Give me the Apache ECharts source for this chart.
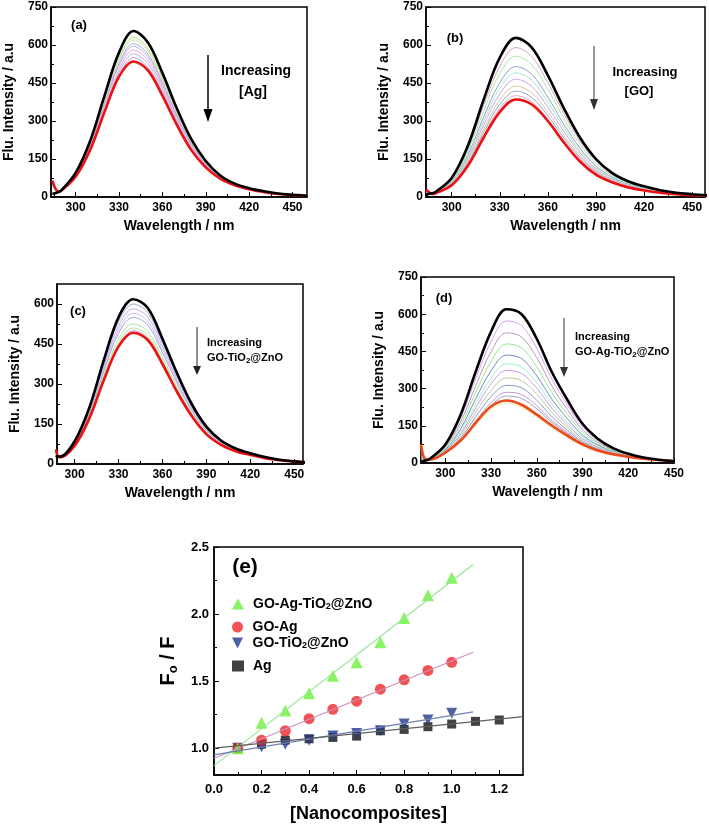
<!DOCTYPE html>
<html><head><meta charset="utf-8">
<script src="https://cdn.jsdelivr.net/npm/echarts@6/dist/echarts.min.js"></script>
<style>html,body{margin:0;padding:0;background:#fff}#c{width:709px;height:829px}</style>
</head><body><div id="c"></div>
<script>
// ---------- DATA ----------
const wlA = [284,288,290,300,310,320,330,340,350,360,370,380,390,400,410,420,430,440,450,460];
const curvesA = [
 [12,20,25,95,220,400,570,655,610,490,350,228,142,85,53,35,23,14,9,5],
 [50,20,24,91,212,385,548,630,587,471,337,219,137,82,52,34,22,14,9,5],
 [45,20,24,90,208,379,540,620,578,464,331,216,134,81,51,34,22,13,8,5],
 [45,20,24,88,203,370,527,605,564,453,323,211,131,79,50,33,22,13,8,5],
 [50,20,23,86,200,363,518,595,554,445,318,207,129,77,49,33,21,13,8,5],
 [50,20,23,84,195,354,504,580,540,434,310,202,126,75,49,33,21,13,8,4],
 [55,20,23,82,190,345,492,565,526,423,302,197,123,74,48,32,21,12,8,4],
 [60,21,24,80,185,336,479,550,512,412,294,192,120,72,47,32,20,12,8,4],
 [65,22,25,80,185,335,475,535,500,400,285,185,117,72,46,31,20,12,8,4]
];
const wlB = [284,288,290,300,310,320,330,340,350,360,370,380,390,400,410,420,430,440,450,460];
const curvesB = [
 [10,15,20,75,200,385,550,628,590,480,350,235,150,95,62,42,27,17,11,6],
 [14,15,19,70,188,362,516,590,554,451,329,221,141,89,58,40,26,16,10,6],
 [16,14,18,66,177,341,487,556,522,425,310,208,133,84,55,38,24,15,10,5],
 [18,14,18,62,164,316,451,515,484,394,287,193,123,78,51,35,23,14,9,5],
 [20,13,17,59,156,300,429,490,460,374,273,183,117,74,48,33,21,14,9,5],
 [22,13,17,56,148,285,407,465,437,355,259,174,111,70,46,31,20,13,8,5],
 [24,13,16,52,139,268,383,438,411,335,244,164,105,66,43,30,19,12,8,4],
 [26,12,16,50,133,256,366,418,393,320,233,157,100,63,41,28,18,12,7,4],
 [28,12,15,48,127,245,350,400,376,306,223,150,96,61,40,27,18,11,7,4],
 [30,12,15,46,122,235,335,385,365,300,215,140,88,58,38,26,17,11,7,4]
];
const wlC = [287,290,300,310,320,330,340,350,360,370,380,390,400,410,420,430,440,450,460];
const curvesC = [
 [30,28,85,210,390,550,618,585,470,340,225,140,88,58,40,26,16,10,5],
 [35,26,83,204,379,534,600,568,456,330,218,136,85,57,39,25,16,10,5],
 [40,26,80,198,367,518,582,551,443,320,212,132,83,55,38,25,15,10,5],
 [42,25,78,192,356,503,565,535,430,311,206,128,80,54,37,24,15,10,5],
 [45,25,76,187,347,490,550,521,418,303,200,125,78,53,37,24,15,9,5],
 [48,25,72,179,332,468,525,497,400,289,191,119,75,51,36,23,14,9,5],
 [50,25,70,173,322,454,510,483,388,281,186,116,73,50,35,23,14,9,5],
 [52,25,69,170,316,445,500,473,380,275,182,113,71,49,34,22,14,9,5],
 [55,25,68,170,315,440,492,465,375,270,180,112,72,48,34,22,14,9,5]
];
const wlD = [284,287,290,300,310,320,330,340,350,360,370,380,390,400,410,420,430,440,450];
const curvesD = [
 [5,10,18,75,195,370,530,620,600,500,365,255,158,98,60,37,22,13,7],
 [8,10,17,69,180,342,490,573,554,462,337,235,146,91,56,35,21,13,7],
 [10,10,16,64,165,313,449,525,508,424,309,216,134,84,53,34,21,13,7],
 [12,10,15,58,151,286,410,480,464,387,283,197,123,78,50,33,20,13,7],
 [15,10,14,53,137,260,372,435,421,351,256,179,112,72,47,32,20,13,8],
 [20,10,14,50,126,239,342,400,387,323,236,164,104,67,45,31,19,12,8],
 [25,10,13,48,117,223,319,373,361,301,220,154,98,63,43,30,19,12,8],
 [30,11,13,46,108,205,293,343,332,277,203,143,91,59,41,29,18,12,8],
 [40,12,13,45,100,187,268,313,303,253,186,132,85,56,39,28,18,12,8],
 [50,12,13,44,92,170,244,285,276,231,171,123,80,53,37,27,18,12,8],
 [60,13,13,44,90,162,232,270,260,218,163,118,78,52,36,26,17,12,8],
 [70,14,12,40,90,155,215,240,225,185,142,103,70,46,32,23,16,11,7],
 [75,15,14,42,90,163,228,252,235,195,150,110,75,50,35,25,17,12,8]
];
// panel (e)
const concX = [0.1,0.2,0.3,0.4,0.5,0.6,0.7,0.8,0.9,1.0];
const concAgX = [0.1,0.2,0.3,0.4,0.5,0.6,0.7,0.8,0.9,1.0,1.1,1.2];
const yGOAgTiZn = [1.00,1.19,1.28,1.41,1.54,1.64,1.79,1.97,2.14,2.27];
const yGOAg = [1.00,1.06,1.13,1.22,1.29,1.35,1.44,1.51,1.58,1.64];
const yGOTiZn = [1.00,1.01,1.03,1.06,1.09,1.11,1.13,1.18,1.21,1.26];
const yAg = [1.00,1.03,1.06,1.07,1.08,1.09,1.13,1.14,1.16,1.18,1.20,1.21];
const fitX = [0, 1.09];
const fitAgX = [0, 1.3];
const fitGOAgTiZn = [0.87, 2.37];
const fitGOAg = [0.925, 1.715];
const fitGOTiZn = [0.95, 1.27];
const fitAg = [1.00, 1.235];
const seriesNames = ['GO-Ag-TiO2@ZnO','GO-Ag','GO-TiO2@ZnO','Ag'];
const specXLabels = [300,330,360,390,420,450];
const specXMinor = [285,315,345,375,405,435];
const eXLabels = [0,0.2,0.4,0.6,0.8,1.0,1.2];
const eXMinor = [0.1,0.3,0.5,0.7,0.9,1.1];
const eYLabels = [1.0,1.5,2.0,2.5];
const eYMinor = [1.25,1.75,2.25];

// ---------- STYLES ----------
const FONT = '"Liberation Sans", Arial, sans-serif';
const colA = ['#000','#a4e884','#d9dca0','#a0b0e0','#c8a8e8','#e2a8d8','#b8b0e0','#c098d8','#ee1111'];
const colB = ['#000','#d8a0d0','#a8e898','#90a0cc','#a0e8c8','#d0a0e8','#d8c8a0','#98a8c8','#e0a8c8','#ee1111'];
const colC = ['#000','#98a8d8','#c8a8e8','#d0b8f0','#a0a8d8','#a8e8a0','#b8e0a0','#c8a0d8','#ee1111'];
const colD = ['#000','#d8a0f0','#b898b8','#98e890','#7888c0','#a0f0d0','#d098e8','#b8c890','#8898c8','#c098d0','#a0a0b8','#f8f0a8','#f04818'];

const grids = [
  {left:51, top:7, width:256, height:190},
  {left:426, top:7, width:279, height:190},
  {left:57, top:284, width:246, height:180},
  {left:421, top:277, width:253, height:186},
  {left:214, top:547, width:309, height:228}
];

const xAxes = [], yAxes = [], series = [];
const lbl = {fontFamily: FONT, fontWeight: 'bold', fontSize: 12, color: '#000'};
const nameStyle = {fontFamily: FONT, fontWeight: 'bold', fontSize: 14, color: '#000'};

function addSpecAxes(gi, xmin, xmax, ymax) {
  xAxes.push({gridIndex: gi, type: 'value', min: xmin, max: xmax, position: 'bottom',
    name: 'Wavelength / nm', nameLocation: 'middle', nameGap: 22, nameTextStyle: nameStyle,
    axisLine: {show: true, lineStyle: {color: '#000', width: 1.5}},
    axisTick: {show: true, inside: true, length: 5, customValues: specXLabels, lineStyle: {color: '#000'}},
    axisLabel: {customValues: specXLabels, margin: 5, ...lbl}, splitLine: {show: false}});
  xAxes.push({gridIndex: gi, type: 'value', min: xmin, max: xmax, position: 'bottom',
    axisLine: {show: false}, axisLabel: {show: false}, splitLine: {show: false},
    axisTick: {show: true, inside: true, length: 3, customValues: specXMinor, lineStyle: {color: '#000'}}});
  const yl = [0,150,300,450,600,750].filter(v => v <= ymax);
  const ym = [75,225,375,525,675].filter(v => v < ymax);
  yAxes.push({gridIndex: gi, type: 'value', min: 0, max: ymax, position: 'left',
    name: 'Flu. Intensity / a.u', nameLocation: 'middle', nameGap: 35, nameTextStyle: nameStyle,
    axisLine: {show: true, lineStyle: {color: '#000', width: 1.5}},
    axisTick: {show: true, inside: true, length: 5, customValues: yl, lineStyle: {color: '#000'}},
    axisLabel: {customValues: yl, margin: 3, ...lbl}, splitLine: {show: false}});
  yAxes.push({gridIndex: gi, type: 'value', min: 0, max: ymax, position: 'left',
    axisLine: {show: false}, axisLabel: {show: false}, splitLine: {show: false},
    axisTick: {show: true, inside: true, length: 3, customValues: ym, lineStyle: {color: '#000'}}});
}
function addSpecSeries(gi, wl, curves, cols, redIdx) {
  const order = [];
  for (let k = 1; k < curves.length; k++) if (k !== redIdx) order.push(k);
  order.push(redIdx); order.push(0);
  order.forEach(k => {
    const thick = (k === 0 || k === redIdx);
    series.push({type: 'line', xAxisIndex: 2*gi, yAxisIndex: 2*gi,
      data: wl.map((w, i) => [w, curves[k][i]]), smooth: 0.35, symbol: 'none',
      lineStyle: {color: cols[k], width: thick ? 2.6 : 1}, silent: true});
  });
}
addSpecAxes(0, 283, 460, 750); addSpecSeries(0, wlA, curvesA, colA, 8);
addSpecAxes(1, 284, 458, 750); addSpecSeries(1, wlB, curvesB, colB, 9);
addSpecAxes(2, 288, 456, 675); addSpecSeries(2, wlC, curvesC, colC, 8);
addSpecAxes(3, 284, 450, 750); addSpecSeries(3, wlD, curvesD, colD, 12);

// panel (e) axes
xAxes.push({gridIndex: 4, type: 'value', min: 0, max: 1.3, position: 'bottom',
  name: '[Nanocomposites]', nameLocation: 'middle', nameGap: 30,
  nameTextStyle: {fontFamily: FONT, fontWeight: 'bold', fontSize: 18, color: '#000'},
  axisLine: {show: true, lineStyle: {color: '#000', width: 1.5}},
  axisTick: {show: true, inside: true, length: 5, customValues: eXLabels, lineStyle: {color: '#000'}},
  axisLabel: {customValues: eXLabels, margin: 8, formatter: v => v.toFixed(1), ...lbl, fontSize: 13}, splitLine: {show: false}});
xAxes.push({gridIndex: 4, type: 'value', min: 0, max: 1.3, position: 'bottom',
  axisLine: {show: false}, axisLabel: {show: false}, splitLine: {show: false},
  axisTick: {show: true, inside: true, length: 3, customValues: eXMinor, lineStyle: {color: '#000'}}});
yAxes.push({gridIndex: 4, type: 'value', min: 0.8, max: 2.5, position: 'left',
  name: '{a|F}{b|o}{a| / F}', nameLocation: 'middle', nameGap: 34,
  nameTextStyle: {rich: {a: {fontFamily: FONT, fontWeight: 'bold', fontSize: 20, color: '#000', lineHeight: 24},
                         b: {fontFamily: FONT, fontWeight: 'bold', fontSize: 13, color: '#000', lineHeight: 13, verticalAlign: 'bottom'}}},
  axisLine: {show: true, lineStyle: {color: '#000', width: 1.5}},
  axisTick: {show: true, inside: true, length: 5, customValues: eYLabels, lineStyle: {color: '#000'}},
  axisLabel: {customValues: eYLabels, margin: 5, formatter: v => v.toFixed(1), ...lbl, fontSize: 13}, splitLine: {show: false}});
yAxes.push({gridIndex: 4, type: 'value', min: 0.8, max: 2.5, position: 'left',
  axisLine: {show: false}, axisLabel: {show: false}, splitLine: {show: false},
  axisTick: {show: true, inside: true, length: 3, customValues: eYMinor, lineStyle: {color: '#000'}}});

const fitCols = ['#94e894', '#c890c0', '#7080b0', '#606060'];
[[fitX, fitGOAgTiZn], [fitX, fitGOAg], [fitX, fitGOTiZn], [fitAgX, fitAg]].forEach((f, k) => {
  series.push({type: 'line', name: 'fit' + k, xAxisIndex: 8, yAxisIndex: 8, symbol: 'none',
    data: f[0].map((x, i) => [x, f[1][i]]), lineStyle: {color: fitCols[k], width: 1.2}, silent: true});
});
const mk = [
  {x: concX, y: yGOAgTiZn, sym: 'triangle', rot: 0, size: 12, col: '#6cf03a'},
  {x: concX, y: yGOAg, sym: 'circle', rot: 0, size: 11, col: '#ee2828'},
  {x: concX, y: yGOTiZn, sym: 'triangle', rot: 180, size: 11, col: '#233a8c'},
  {x: concAgX, y: yAg, sym: 'rect', rot: 0, size: 9, col: '#111'}
];
[3,2,1,0].forEach(k => {
  const m = mk[k];
  series.push({type: 'scatter', name: seriesNames[k], xAxisIndex: 8, yAxisIndex: 8,
    data: m.x.map((x, i) => [x, m.y[i]]), symbol: m.sym, symbolRotate: m.rot, symbolSize: m.size,
    itemStyle: {color: m.col}, silent: true});
});
const legTops = [601, 624, 640, 663];
const legends = seriesNames.map((n, k) => ({
  left: 227, top: legTops[k] - 9, orient: 'vertical', selectedMode: false,
  itemWidth: 12, itemHeight: 11, itemGap: 6,
  data: [{name: n, icon: mk[k].sym === 'rect' ? 'rect' : (mk[k].sym === 'circle' ? 'circle' : (mk[k].rot ? 'path://M0,0 L10,0 L5,10 Z' : 'triangle'))}],
  formatter: s => s.replace('TiO2', 'TiO{s|2}'),
  textStyle: {fontFamily: FONT, fontWeight: 'bold', fontSize: 14, color: '#000', padding: [0,0,0,4],
    rich: {s: {fontFamily: FONT, fontWeight: 'bold', fontSize: 9, color: '#000', verticalAlign: 'bottom', lineHeight: 10}}}
}));

// ---------- ANNOTATIONS ----------
function txt(x, y, t, size, align) {
  return {type: 'text', x: x, y: y, silent: true,
    style: {text: t, font: 'bold ' + size + 'px ' + FONT, fill: '#000', align: align || 'center', verticalAlign: 'middle'}};
}
function richTxt(x, y, t, size) {
  return {type: 'text', x: x, y: y, silent: true,
    style: {text: t, align: 'left', verticalAlign: 'middle', fill: '#000',
      rich: {n: {font: 'bold ' + size + 'px ' + FONT, fill: '#000', lineHeight: size + 3},
             s: {font: 'bold ' + Math.round(size * 0.7) + 'px ' + FONT, fill: '#000', verticalAlign: 'bottom', lineHeight: size * 0.7}}}};
}
function arrow(x, y1, y2, headH, headW, col, lw) {
  return [
    {type: 'line', silent: true, shape: {x1: x, y1: y1, x2: x, y2: y2 - headH}, style: {stroke: col, lineWidth: lw}},
    {type: 'polygon', silent: true, shape: {points: [[x - headW/2, y2 - headH], [x + headW/2, y2 - headH], [x, y2]]}, style: {fill: col}}
  ];
}
const graphics = [
  txt(79, 25, '(a)', 13), txt(256, 71, 'Increasing', 14), txt(253, 92, '[Ag]', 14),
  ...arrow(208, 55, 122, 13, 9, '#000', 1.5),
  txt(455, 38, '(b)', 13), txt(645, 72, 'Increasing', 13), txt(639, 91, '[GO]', 13),
  ...arrow(594, 46, 110, 11, 8, '#333', 1),
  txt(78, 311, '(c)', 13), txt(207, 343, 'Increasing', 11, 'left'),
  richTxt(207, 358, '{n|GO-TiO}{s|2}{n|@ZnO}', 11),
  ...arrow(197, 327, 375, 9, 8, '#222', 1),
  txt(444, 298, '(d)', 13), txt(575, 337, 'Increasing', 11, 'left'),
  richTxt(575, 352, '{n|GO-Ag-TiO}{s|2}{n|@ZnO}', 11),
  ...arrow(564, 318, 377, 10, 8, '#333', 1),
  txt(245, 567, '(e)', 21)
];

const chart = echarts.init(document.getElementById('c'), null, {renderer: 'canvas'});
chart.setOption({
  animation: false,
  backgroundColor: '#fff',
  textStyle: {fontFamily: FONT},
  grid: grids.map(g => ({...g, show: true, borderColor: '#000', borderWidth: 1.5, backgroundColor: 'transparent', containLabel: false})),
  xAxis: xAxes, yAxis: yAxes, series: series, legend: legends, graphic: graphics
});
</script></body></html>
